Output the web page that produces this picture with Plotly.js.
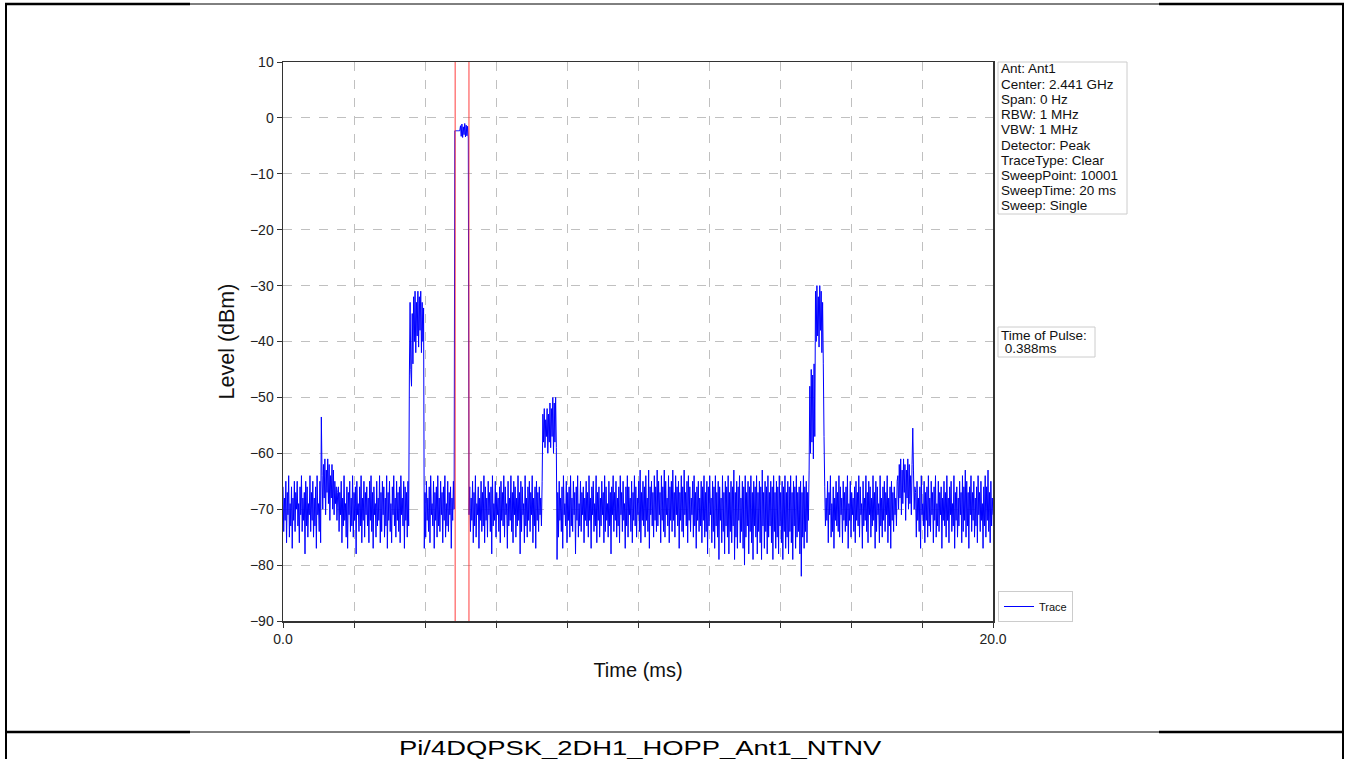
<!DOCTYPE html>
<html>
<head>
<meta charset="utf-8">
<script src="https://cdn.plot.ly/plotly-3.0.1.min.js"></script>
<style>
html,body{margin:0;padding:0;background:#fff;}
#chart{width:1346px;height:759px;}
#chart g.annotation[data-index="12"] text{transform-box:fill-box;transform-origin:center;transform:scaleX(1.37);}
</style>
</head>
<body>
<div id="chart"></div>
<script>
// ---- data, levels in dBm ----
const sweepTimeMs = 20;      // x axis span (ms)
const sampleStepMs = 0.02;   // spacing of values inside each segment

const noiseA = [
  -66,-74,-68,-72,-65,-76,-67,-71,-64,-75,-69,-73,-66,-77,-68,-72,-65,-74,-67,-70,
  -65,-73,-69,-76,-66,-71,-64,-74,-68,-72,-67,-78,-65,-73,-66,-75,-69,-71,-64,-74,
  -67,-72,-65,-75,-68,-73,-66,-77,-64,-71,-69,-74,-65,-76];
const spikeA = [-53.5];
const bumpA = [-64,-70,-62,-68,-61,-71,-63,-67,-61,-69,-62,-72,-64,-68,-62,-70,-63,-71,-65,-69,-66,-72,-67];
const noiseB = [
  -66,-74,-67,-71,-65,-76,-68,-73,-64,-72,-69,-75,-66,-77,-67,-71,-65,-74,-68,-73,
  -64,-75,-67,-72,-66,-78,-65,-71,-69,-74,-66,-73,-64,-76,-68,-72,-65,-75,-67,-71,
  -66,-73,-68,-76,-65,-72,-64,-74,-67,-77,-66,-71,-69,-75,-65,-73,-68,-72,-64,-76,
  -67,-74,-65,-71,-66,-75,-68,-73,-64,-77,-67,-72,-65,-74,-69,-76,-66,-71,-64,-73,
  -68,-75,-65,-72,-67,-74,-66,-76,-64,-71,-68,-73,-65,-77,-66,-72,-67,-75,-65,-73];
const pulseA = [-46,-33,-45,-48,-35,-44,-32,-40,-31,-42,-33,-39,-31,-41,-32,-38,-31,-42,-33,-40,-34];
const dropA = [-77];
const noiseC = [
  -67,-75,-65,-72,-68,-74,-66,-76,-64,-71,-69,-73,-65,-77,-67,-72,-66,-75,-64,-73,
  -68,-74,-65,-71,-67,-76,-66,-72,-64,-75,-69,-73,-65,-74,-67,-71,-66,-77,-68,-72,
  -65,-70];
const mainPulseFlat = [-2.3,-2.3,-2.3,-2.3,-2.3,-2.3,-2.3,-2.3];
const mainPulseTop = [-1.4,-3.3,-1.1,-3.5,-1.6,-3.0,-1.0,-3.4,-1.3,-3.2,-1.5,-3.6];
const dropB = [-71];
const noiseD = [
  -66,-74,-68,-72,-65,-76,-67,-73,-64,-75,-69,-71,-66,-77,-68,-72,-65,-74,-67,-73,
  -64,-76,-66,-72,-68,-75,-65,-71,-67,-74,-66,-78,-64,-73,-69,-72,-65,-75,-67,-71,
  -68,-74,-66,-76,-65,-72,-67,-73,-64,-75,-66,-71,-69,-77,-65,-73,-68,-72,-64,-74,
  -67,-76,-65,-71,-66,-75,-68,-73,-64,-72,-67,-78,-65,-74,-66,-71,-69,-76,-64,-73,
  -68,-75,-66,-72,-65,-74,-67,-71,-64,-76,-68,-73,-66,-77,-65,-72,-67,-74,-66,-71,
  -68,-73,-65];
const pulseB = [-53,-58,-52,-59,-54,-57,-52,-60,-53,-58,-51,-59,-52,-57,-50,-60,-51,-58,-50,-59];
const dropC = [-79];
const noiseE = [
  -67,-75,-65,-72,-68,-74,-66,-77,-64,-71,-69,-73,-65,-76,-67,-72,-66,-75,-64,-73,
  -68,-74,-65,-71,-67,-78,-66,-72,-64,-75,-69,-73,-65,-74,-67,-71,-66,-76,-68,-72,
  -65,-73,-67,-75,-64,-72,-68,-77,-66,-71,-65,-74,-69,-73,-64,-76,-67,-72,-66,-75,
  -68,-73,-65,-71,-67,-76,-64,-74,-66,-72,-69,-75,-65,-73,-67,-78,-66,-71,-64,-74,
  -67,-72,-65,-75,-68,-73,-66,-76,-64,-71,-67,-74,-65,-72,-69,-77,-66,-73,-64,-75,
  -66,-71,-68,-74,-65,-76,-67,-72,-64,-73,-66,-75,-68,-71,-65,-74,-63,-76,-67,-72,
  -65,-73,-66,-75,-64,-72,-68,-74,-63,-77,-66,-71,-65,-73,-67,-75,-64,-72,-66,-74,
  -63,-73,-65,-71,-67,-76,-64,-72,-66,-74,-63,-75,-65,-71,-68,-73,-64,-76,-66,-72,
  -65,-74,-63,-72,-67,-75,-64,-71,-66,-73,-65,-77,-67,-72,-64,-74,-66,-75,-63,-71,
  -67,-73,-65,-76,-64,-72,-66,-74,-68,-71,-65,-75,-64,-73,-67,-77,-66,-72,-65,-74,
  -68,-73,-65,-76,-66,-72,-64,-75,-67,-74,-65,-78,-66,-73,-64,-71,-68,-76,-65,-74,
  -66,-77,-64,-73,-67,-75,-65,-79,-66,-72,-68,-76,-64,-74,-67,-78,-65,-73,-66,-75,
  -64,-78,-67,-74,-65,-76,-66,-73,-63,-79,-67,-75,-65,-77,-66,-72,-64,-76,-68,-74,
  -65,-77,-66,-80,-64,-75,-67,-73,-65,-78,-66,-74,-64,-76,-67,-79,-65,-73,-66,-75,
  -64,-78,-67,-74,-65,-76,-66,-79,-63,-73,-67,-77,-65,-74,-66,-78,-64,-75,-67,-73,
  -65,-76,-66,-79,-64,-74,-67,-77,-65,-75,-66,-78,-64,-73,-67,-76,-65,-79,-66,-74,
  -64,-77,-67,-75,-65,-78,-66,-74,-64,-76,-67,-79,-65,-73,-66,-77,-64,-75,-67,-74,
  -66,-78,-65,-82,-67,-75,-64,-77,-66,-74,-65,-76,-67,-72];
const pulseC = [-63,-48,-60,-45,-58,-46,-61,-44,-57,-31,-40,-30,-39,-32,-41,-30,-38,-31,-42,-33,-44];
const dropD = [-57];
const noiseF = [
  -66,-73,-68,-72,-65,-76,-67,-71,-64,-75,-69,-74,-66,-77,-68,-72,-65,-73,-67,-74,
  -64,-75,-66,-71,-68,-76,-65,-72,-67,-74,-66,-73,-64,-77,-69,-72,-65,-75,-67,-71,
  -68,-74,-66,-76,-65,-72,-67,-73,-64,-75,-66,-71,-69,-77,-65,-73,-68,-72,-64,-74,
  -67,-76,-65,-71,-66,-75,-68,-73,-64,-72,-67,-77,-65,-74,-66,-71,-69,-76,-64,-73,
  -68,-75,-66,-72,-65,-74,-67,-71,-64,-76,-68,-73,-66,-77,-65,-72,-67,-74,-66,-71,
  -68,-73,-65];
const bumpB = [-64,-70,-62,-68,-61,-71,-63,-69,-61,-67,-62,-72,-63,-68,-61,-70,-62,-69,-64,-71,-62,-55.5,-63,-70,-66];
const noiseG = [
  -67,-75,-65,-72,-68,-74,-66,-77,-64,-71,-69,-73,-65,-76,-67,-72,-66,-75,-64,-73,
  -68,-74,-65,-71,-67,-76,-66,-72,-64,-75,-69,-73,-65,-74,-67,-71,-66,-77,-68,-72,
  -65,-73,-67,-75,-64,-72,-68,-76,-66,-71,-65,-74,-69,-73,-64,-77,-67,-72,-66,-75,
  -68,-73,-65,-71,-67,-76,-64,-74,-66,-72,-63,-75,-65,-73,-67,-77,-66,-71,-64,-74,
  -67,-72,-65,-75,-68,-73,-66,-76,-64,-71,-67,-74,-65,-72,-69,-77,-66,-73,-64,-75,
  -66,-72,-63,-74,-67,-76,-65,-73,-68,-71];

const segmentStartMs = [0, 1.08, 1.10, 1.56, 3.56, 3.98, 4.00, 4.84, 5.00, 5.24, 5.26, 7.32, 7.72, 7.74, 14.82, 15.24, 15.26, 17.32, 17.82];
const segmentLevels = [noiseA, spikeA, bumpA, noiseB, pulseA, dropA, noiseC, mainPulseFlat, mainPulseTop, dropB,
  noiseD, pulseB, dropC, noiseE, pulseC, dropD, noiseF, bumpB, noiseG];

const pulseMarkersMs = [4.85, 5.238];
const xTickVals = [0,2,4,6,8,10,12,14,16,18,20];
const xTickText = ['0.0','','','','','','','','','','20.0'];
const yTickVals = [-90,-80,-70,-60,-50,-40,-30,-20,-10,0,10];
const infoLines = ['Ant: Ant1','Center: 2.441 GHz','Span: 0 Hz','RBW: 1 MHz','VBW: 1 MHz',
  'Detector: Peak','TraceType: Clear','SweepPoint: 10001','SweepTime: 20 ms','Sweep: Single'];
const pulseLines = ['Time of Pulse:',' 0.388ms'];
const captionText = 'Pi/4DQPSK_2DH1_HOPP_Ant1_NTNV';

// ---- assemble trace ----
const timeMs = [], levelDbm = [];
segmentLevels.forEach((seg, k) => seg.forEach((v, j) => {
  timeMs.push(+(segmentStartMs[k] + j * sampleStepMs).toFixed(4));
  levelDbm.push(v);
}));

// ---- layout helpers (pixel -> paper) ----
const L = 283, R = 993, T = 62, B = 621;
const px = x => (x - L) / (R - L);
const py = y => (B - y) / (B - T);

const FONT = 'Arial, "Liberation Sans", sans-serif';

const shapes = [];
pulseMarkersMs.forEach(t => shapes.push({type:'line', xref:'x', yref:'paper', x0:t, x1:t, y0:0, y1:1,
  line:{color:'rgba(255,40,40,0.75)', width:1.2}, layer:'above'}));
shapes.push({type:'rect', xref:'paper', yref:'paper', x0:px(998), x1:px(1127), y0:py(214), y1:py(62),
  line:{color:'#cccccc', width:1}, fillcolor:'rgba(255,255,255,0.9)'});
shapes.push({type:'rect', xref:'paper', yref:'paper', x0:px(998), x1:px(1095), y0:py(357), y1:py(327),
  line:{color:'#cccccc', width:1}, fillcolor:'rgba(255,255,255,0.9)'});
const frame = (x0,y0,x1,y1,w) => shapes.push({type:'line', xref:'paper', yref:'paper',
  x0:px(x0), x1:px(x1), y0:py(y0), y1:py(y1), line:{color:'#000', width:w}});
frame(6,3,6,759,2);
frame(1343,3,1343,759,2);
frame(5,4,190,4,2.5);
frame(190,4,1159,4,1);
frame(1159,4,1344,4,2.5);
frame(5,732,190,732,2.5);
frame(190,732,1159,732,1);
frame(1159,732,1344,732,2.5);

const annotations = [];
infoLines.forEach((s, i) => annotations.push({xref:'paper', yref:'paper', x:px(999), y:py(69 + i*15.2),
  xanchor:'left', yanchor:'middle', text:s, showarrow:false, font:{family:FONT, size:13.5, color:'#111'}}));
pulseLines.forEach((s, i) => annotations.push({xref:'paper', yref:'paper', x:px(999), y:py(335 + i*14),
  xanchor:'left', yanchor:'middle', text:s.replace(/^ /,'&nbsp;'), showarrow:false, font:{family:FONT, size:13.5, color:'#111'}}));
annotations.push({xref:'paper', yref:'paper', x:px(640), y:py(748), xanchor:'center', yanchor:'middle',
  text:captionText, showarrow:false, font:{family:FONT, size:20, color:'#000'}});

const trace = {x: timeMs, y: levelDbm, type:'scatter', mode:'lines', name:'Trace',
  line:{color:'#0000ff', width:1, simplify:false}};

const layout = {
  width:1346, height:759,
  margin:{l:L, r:1346-R, t:T, b:759-B, pad:0},
  paper_bgcolor:'#ffffff', plot_bgcolor:'#ffffff',
  font:{family:FONT, size:14, color:'#222'},
  xaxis:{range:[0, sweepTimeMs], tickvals:xTickVals, ticktext:xTickText, ticks:'outside', ticklen:5,
    tickcolor:'#333', showline:true, mirror:true, linecolor:'#333', linewidth:1.5, zeroline:false,
    showgrid:true, gridcolor:'#b0b0b0', griddash:'dash', gridwidth:0.8,
    tickfont:{family:FONT, size:14, color:'#222'},
    title:{text:'Time (ms)', font:{family:FONT, size:20, color:'#111'}, standoff:16}},
  yaxis:{range:[-90, 10], tickvals:yTickVals, ticks:'outside', ticklen:5, tickcolor:'#333',
    showline:true, mirror:true, linecolor:'#333', linewidth:1.5, zeroline:false,
    showgrid:true, gridcolor:'#b0b0b0', griddash:'dash', gridwidth:0.8,
    tickfont:{family:FONT, size:14, color:'#222'},
    title:{text:'Level (dBm)', font:{family:FONT, size:21.5, color:'#111'}, standoff:9}},
  showlegend:true,
  legend:{x:px(998), y:py(622), xanchor:'left', yanchor:'bottom', bordercolor:'#cccccc', borderwidth:1,
    bgcolor:'#ffffff', font:{family:FONT, size:11, color:'#111'}, itemwidth:30},
  shapes:shapes, annotations:annotations
};
Plotly.newPlot('chart', [trace], layout, {displayModeBar:false, staticPlot:true});
</script>
</body>
</html>
